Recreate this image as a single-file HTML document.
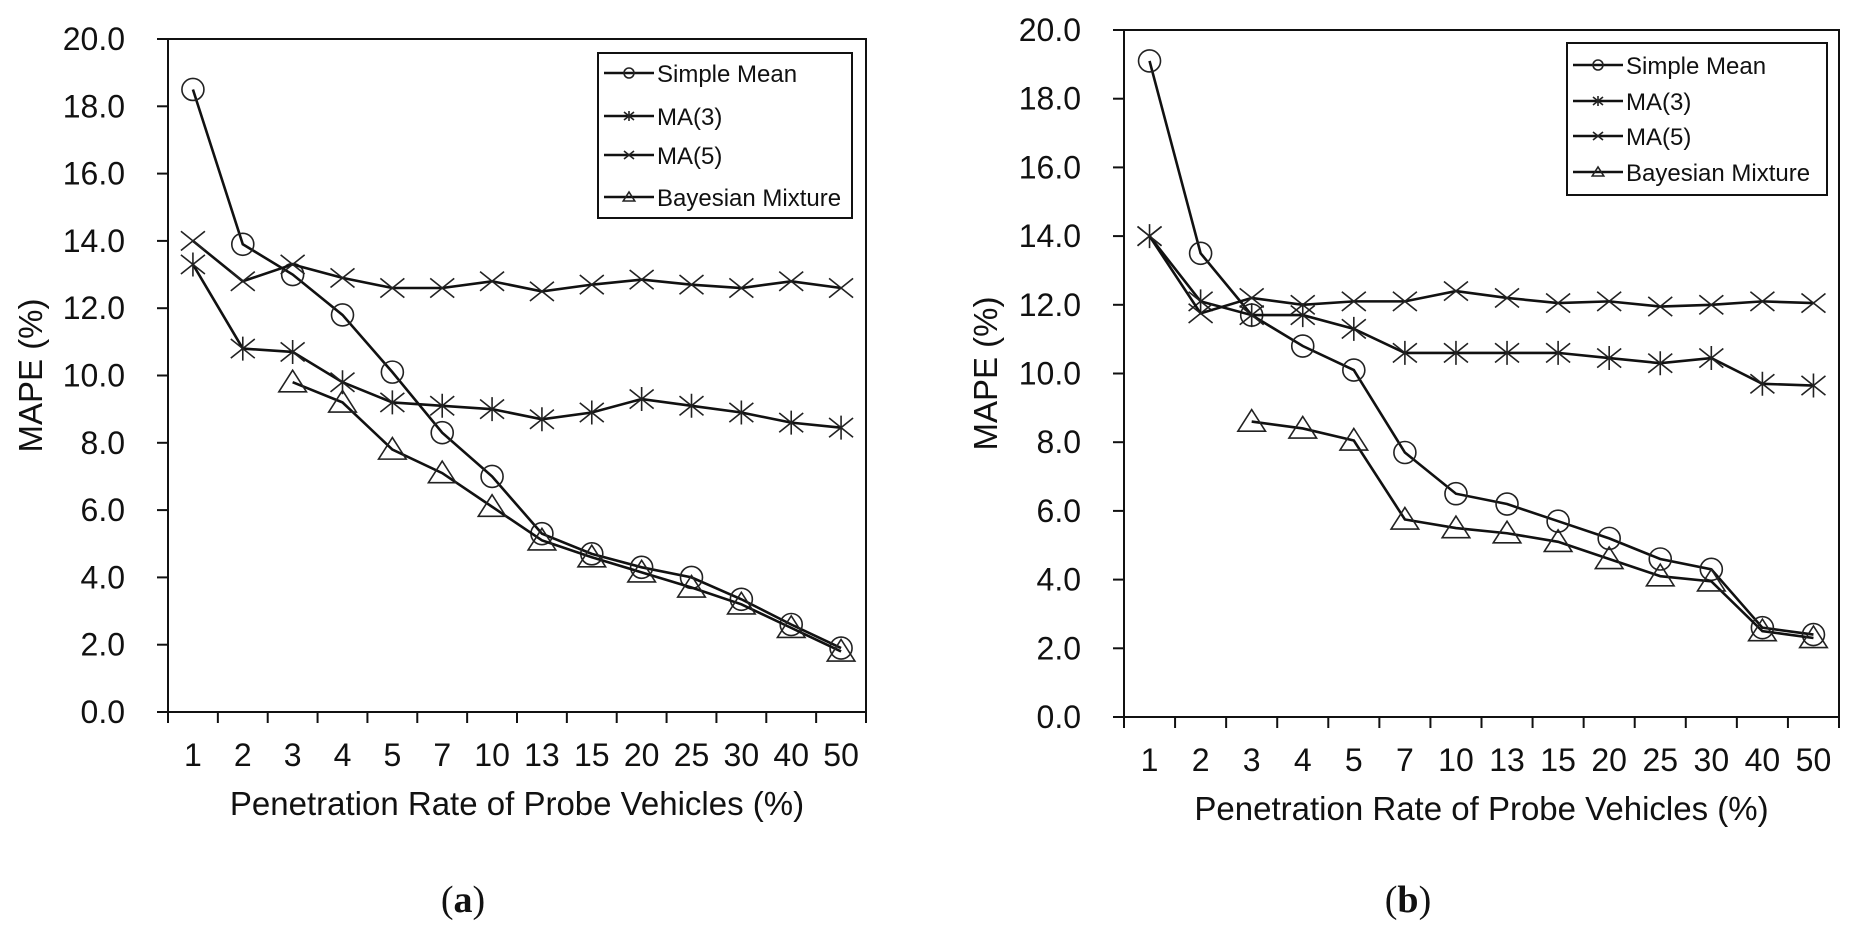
<!DOCTYPE html>
<html><head><meta charset="utf-8"><style>
html,body{margin:0;padding:0;background:#fff;}
svg{display:block;font-family:"Liberation Sans",Arial,sans-serif;}
</style></head><body>
<svg id="fig" width="1859" height="925" viewBox="0 0 1859 925" xmlns="http://www.w3.org/2000/svg"></svg>
<script>
const categories = ["1","2","3","4","5","7","10","13","15","20","25","30","40","50"];
const yTicks = ["0.0","2.0","4.0","6.0","8.0","10.0","12.0","14.0","16.0","18.0","20.0"];
const seriesNames = ["Simple Mean","MA(3)","MA(5)","Bayesian Mixture"];
const markerKinds = ["circle","star","x","tri"];
const aSimpleMean = [18.5,13.9,13.0,11.8,10.1,8.3,7.0,5.3,4.7,4.3,4.0,3.35,2.6,1.9];
const aMA3 = [13.3,10.8,10.7,9.8,9.2,9.1,9.0,8.7,8.9,9.3,9.1,8.9,8.6,8.45];
const aMA5 = [14.0,12.8,13.3,12.9,12.6,12.6,12.8,12.5,12.7,12.85,12.7,12.6,12.8,12.6];
const aBayes = [null,null,9.8,9.2,7.8,7.1,6.1,5.1,4.6,4.15,3.7,3.2,2.5,1.8];
const bSimpleMean = [19.1,13.5,11.7,10.8,10.1,7.7,6.5,6.2,5.7,5.2,4.6,4.3,2.6,2.4];
const bMA3 = [14.0,12.1,11.7,11.7,11.3,10.6,10.6,10.6,10.6,10.45,10.3,10.45,9.7,9.65];
const bMA5 = [14.0,11.75,12.2,12.0,12.1,12.1,12.4,12.2,12.05,12.1,11.95,12.0,12.1,12.05];
const bBayes = [null,null,8.6,8.4,8.05,5.75,5.5,5.35,5.1,4.6,4.1,3.95,2.5,2.3];

const NS="http://www.w3.org/2000/svg";
const svg=document.getElementById('fig');
function mk(tag,attrs,parent){const e=document.createElementNS(NS,tag);for(const k in attrs)e.setAttribute(k,attrs[k]);(parent||svg).appendChild(e);return e;}

function marker(g,kind,x,y,s){
  if(kind==="circle"){mk('circle',{cx:x,cy:y,r:s,fill:'none',stroke:'#222','stroke-width':1.6},g);}
  else if(kind==="tri"){mk('polygon',{points:`${x},${y-s} ${x-s*1.15},${y+s*0.8} ${x+s*1.15},${y+s*0.8}`,fill:'none',stroke:'#222','stroke-width':1.6},g);}
  else if(kind==="x"){mk('path',{d:`M${x-s},${y-s*0.8}L${x+s},${y+s*0.8}M${x-s},${y+s*0.8}L${x+s},${y-s*0.8}`,stroke:'#222','stroke-width':1.6},g);}
  else {mk('path',{d:`M${x-s},${y-s*0.8}L${x+s},${y+s*0.8}M${x-s},${y+s*0.8}L${x+s},${y-s*0.8}M${x},${y-s}L${x},${y+s}`,stroke:'#222','stroke-width':1.6},g);}
}

function chart(cfg){
  const g=mk('g',{});
  
  
  const {L,R,T,B}=cfg;
  const bw=(R-L)/categories.length;
  const xs=i=>L+bw*(i+0.5);
  const ys=v=>B-(B-T)*v/20;
  const frame=mk('rect',{x:L,y:T,width:R-L,height:B-T,fill:'none',stroke:'#111','stroke-width':2},g);
  
  
  yTicks.forEach((t,i)=>{
    const y=ys(parseFloat(t));
    mk('line',{x1:L-11,x2:L,y1:y,y2:y,stroke:'#111','stroke-width':2},g);
    const tx=mk('text',{x:L-43,y:y+11,'text-anchor':'end','font-size':32,fill:'#111'},g);
    tx.textContent=t;
    
    
  });
  for(let i=0;i<=categories.length;i++){
    const x=L+bw*i;
    mk('line',{x1:x,x2:x,y1:B,y2:B+11,stroke:'#111','stroke-width':2},g);
  }
  categories.forEach((c,i)=>{
    const tx=mk('text',{x:xs(i),y:B+54,'text-anchor':'middle','font-size':32,fill:'#111'},g);
    tx.textContent=c;
    
    
  });
  const xt=mk('text',{x:(L+R)/2,y:B+103,'text-anchor':'middle','font-size':33,fill:'#111'},g);
  xt.textContent='Penetration Rate of Probe Vehicles (%)';
  
  
  const yx=cfg.yTitleX, yy=(T+B)/2;
  const yt=mk('text',{x:yx,y:yy,'text-anchor':'middle','font-size':33,fill:'#111',transform:`rotate(-90 ${yx} ${yy})`},g);
  yt.textContent='MAPE (%)';
  
  
  cfg.series.forEach((vals,si)=>{
    const sg=mk('g',{},g);
    
    
    let d='';
    vals.forEach((v,i)=>{if(v===null)return;d+=(d?'L':'M')+xs(i)+','+ys(v);});
    mk('path',{d:d,fill:'none',stroke:'#111','stroke-width':2.6},sg);
    vals.forEach((v,i)=>{if(v===null)return;marker(sg,markerKinds[si],xs(i),ys(v),markerKinds[si]==='circle'?11:12);});
  });
  const lg=mk('g',{},g);
  
  
  const lc=cfg.legend;
  mk('rect',{x:lc.x,y:lc.y,width:lc.w,height:lc.h,fill:'#fff',stroke:'#111','stroke-width':2},lg);
  lc.rows.forEach((ry,si)=>{
    const eg=mk('g',{},lg);
    
    
    mk('line',{x1:lc.x+6,x2:lc.x+56,y1:ry,y2:ry,stroke:'#111','stroke-width':2.6},eg);
    marker(eg,markerKinds[si],lc.x+31,ry,5);
    const t=mk('text',{x:lc.x+59,y:ry+9,'font-size':24,fill:'#111'},eg);
    t.textContent=seriesNames[si];
  });
  const cap=mk('text',{x:cfg.capX,y:912,'text-anchor':'middle','font-size':38,'font-family':'"Liberation Serif",serif',fill:'#111'},g);
  cap.innerHTML='(<tspan font-weight="bold">'+cfg.cap+'</tspan>)';
  
  
}

chart({name:'chart-a',L:168,R:866,T:39,B:712,yTitleX:42,capX:463,cap:'a',
  series:[aSimpleMean,aMA3,aMA5,aBayes],
  legend:{x:598,y:53,w:254,h:165,rows:[73,116,155,197]}});
chart({name:'chart-b',L:1124,R:1839,T:30,B:717,yTitleX:997,capX:1408,cap:'b',
  series:[bSimpleMean,bMA3,bMA5,bBayes],
  legend:{x:1567,y:43,w:260,h:152,rows:[65,101,136,172]}});
</script>
</body></html>
